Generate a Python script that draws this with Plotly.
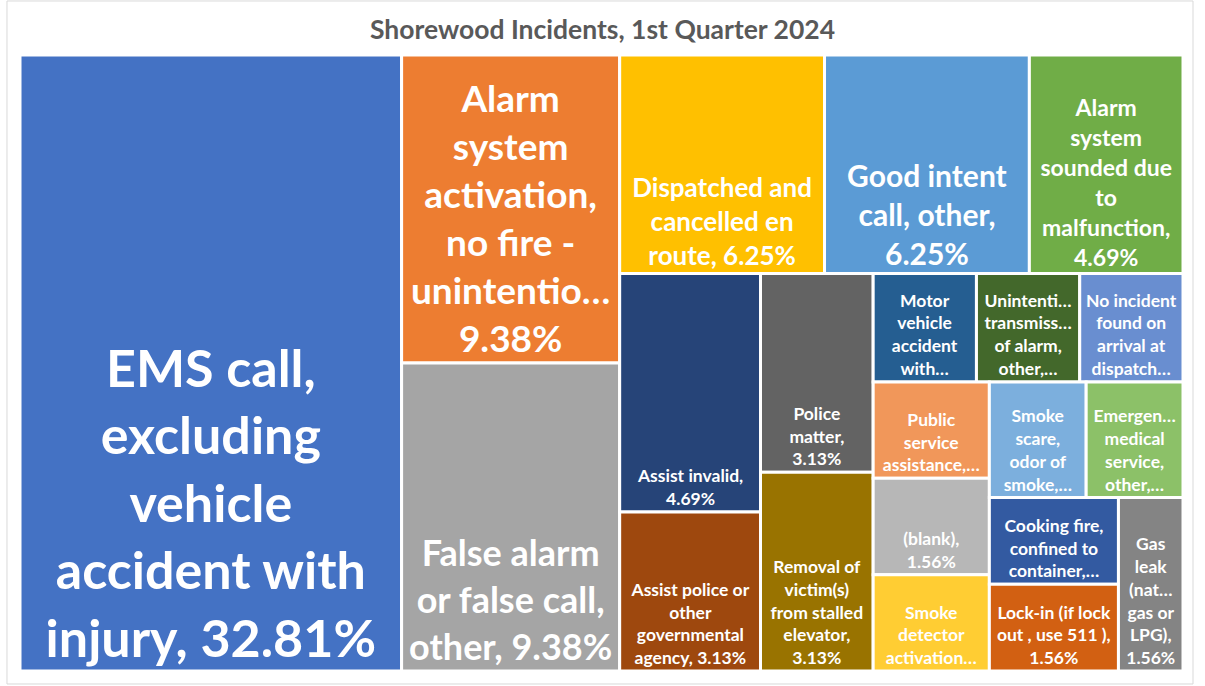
import plotly.graph_objects as go

categories = [
    "EMS call, excluding vehicle accident with injury",
    "Alarm system activation, no fire - unintentional",
    "False alarm or false call, other",
    "Dispatched and cancelled en route",
    "Good intent call, other",
    "Alarm system sounded due to malfunction",
    "Assist invalid",
    "Assist police or other governmental agency",
    "Police matter",
    "Removal of victim(s) from stalled elevator",
    "Motor vehicle accident with injuries",
    "Unintentional transmission of alarm, other",
    "No incident found on arrival at dispatch address",
    "Public service assistance, other",
    "(blank)",
    "Smoke detector activation due to malfunction",
    "Smoke scare, odor of smoke",
    "Emergency medical service, other",
    "Cooking fire, confined to container",
    "Lock-in (if lock out , use 511 )",
    "Gas leak (natural gas or LPG)",
]
counts = [21, 6, 6, 4, 4, 3, 3, 2, 2, 2, 1, 1, 1, 1, 1, 1, 1, 1, 1, 1, 1]
display_labels = [
    "EMS call,<br>excluding<br>vehicle<br>accident with<br>injury, 32.81%",
    "Alarm<br>system<br>activation,<br>no fire -<br>unintentio…<br>9.38%",
    "False alarm<br>or false call,<br>other, 9.38%",
    "Dispatched and<br>cancelled en<br>route, 6.25%",
    "Good intent<br>call, other,<br>6.25%",
    "Alarm<br>system<br>sounded due<br>to<br>malfunction,<br>4.69%",
    "Assist invalid,<br>4.69%",
    "Assist police or<br>other<br>governmental<br>agency, 3.13%",
    "Police<br>matter,<br>3.13%",
    "Removal of<br>victim(s)<br>from stalled<br>elevator,<br>3.13%",
    "Motor<br>vehicle<br>accident<br>with…",
    "Unintenti…<br>transmiss…<br>of alarm,<br>other,…",
    "No incident<br>found on<br>arrival at<br>dispatch…",
    "Public<br>service<br>assistance,…",
    "(blank),<br>1.56%",
    "Smoke<br>detector<br>activation…",
    "Smoke<br>scare,<br>odor of<br>smoke,…",
    "Emergen…<br>medical<br>service,<br>other,…",
    "Cooking fire,<br>confined to<br>container,…",
    "Lock-in (if lock<br>out , use 511 ),<br>1.56%",
    "Gas<br>leak<br>(nat…<br>gas or<br>LPG),<br>1.56%",
]
colors = [
    "#4472C4", "#ED7D31", "#A5A5A5", "#FFC000", "#5B9BD5", "#70AD47",
    "#264478", "#9E480E", "#636363", "#997300", "#255E91", "#43682B",
    "#698ED0", "#F1975A", "#B7B7B7", "#FFCD33", "#7CAFDD", "#8CC168",
    "#335AA1", "#D26012", "#848484",
]
font_sizes = [52, 37, 36, 26, 30, 23, 17.5, 17.5, 17.5, 17.5,
              17.5, 17.5, 17.5, 17.5, 17.5, 17.5, 17.5, 17.5, 17.5, 17.5, 17.5]

fig = go.Figure(go.Treemap(
    labels=categories,
    parents=[""] * len(categories),
    values=counts,
    text=display_labels,
    textinfo="text",
    texttemplate="%{text}",
    textposition="bottom center",
    sort=False,
    textfont=dict(family="Lato", size=font_sizes, color="white", weight="bold"),
    marker=dict(colors=colors, line=dict(color="white", width=3),
                pad=dict(t=0, l=0, r=0, b=0)),
    tiling=dict(packing="squarify", squarifyratio=1, pad=0),
    pathbar=dict(visible=False),
    hoverinfo="label+value+percent root",
))

fig.update_layout(
    width=1205, height=686,
    margin=dict(l=20, r=22, t=55, b=15),
    paper_bgcolor="white",
    title=dict(text="Shorewood Incidents, 1st Quarter 2024", x=0.5, xanchor="center",
               y=0.956, yanchor="middle",
               font=dict(family="Lato", size=26.5, color="#595959", weight="bold")),
    shapes=[dict(type="rect", xref="paper", yref="paper",
                 x0=-0.0112, x1=1.0086, y0=-0.0211, y1=1.0877,
                 line=dict(color="#D9D9D9", width=1), fillcolor="rgba(0,0,0,0)")],
)

fig.write_html("out.html", config={"displayModeBar": False},
               post_script="document.body.style.margin='0';")
